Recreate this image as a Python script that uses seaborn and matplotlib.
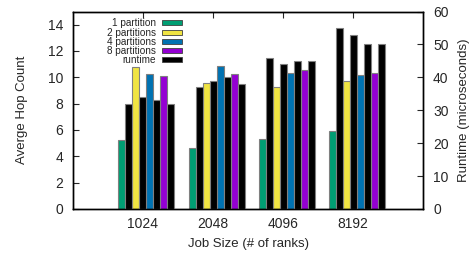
import pandas as pd
import seaborn as sns
import matplotlib.pyplot as plt
from matplotlib.patches import Patch

# values
sizes = ['1024', '2048', '4096', '8192']
hop_1 = [5.2, 4.6, 5.3, 5.9]
hop_2 = [10.75, 9.6, 9.3, 9.7]
hop_4 = [10.25, 10.85, 10.3, 10.2]
hop_8 = [10.1, 10.25, 10.55, 10.3]
run_1 = [32, 37, 46, 55]
run_2 = [34, 39, 44, 53]
run_4 = [33, 40, 45, 50]
run_8 = [32, 38, 45, 50]

levels = ['1 partition', 'rt1', '2 partitions', 'rt2',
          '4 partitions', 'rt4', '8 partitions', 'rt8']
colors = {'1 partition': '#009e73', '2 partitions': '#f0e442',
          '4 partitions': '#0072b2', '8 partitions': '#9400d3',
          'rt1': 'black', 'rt2': 'black', 'rt4': 'black', 'rt8': 'black'}

hop_df = pd.concat([
    pd.DataFrame({'size': sizes, 'val': v, 'series': name})
    for name, v in [('1 partition', hop_1), ('2 partitions', hop_2),
                    ('4 partitions', hop_4), ('8 partitions', hop_8)]])
run_df = pd.concat([
    pd.DataFrame({'size': sizes, 'val': v, 'series': name})
    for name, v in [('rt1', run_1), ('rt2', run_2), ('rt4', run_4), ('rt8', run_8)]])

sns.set_style('ticks')
plt.rcParams['font.family'] = ['Liberation Sans', 'DejaVu Sans']

fig, ax = plt.subplots(figsize=(4.73, 2.56), dpi=100)
fig.subplots_adjust(left=0.154, right=0.895, top=0.955, bottom=0.184)
ax2 = ax.twinx()

sns.barplot(hop_df, x='size', y='val', hue='series', order=sizes, hue_order=levels,
            palette=colors, saturation=1, ax=ax, legend=False, edgecolor='#808080',
            linewidth=0.8, width=0.8, gap=0)
sns.barplot(run_df, x='size', y='val', hue='series', order=sizes, hue_order=levels,
            palette=colors, saturation=1, ax=ax2, legend=False, edgecolor='#808080',
            linewidth=0.8, width=0.8, gap=0)

ax.set_ylim(0, 15)
ax2.set_ylim(0, 60)
ax.set_yticks(range(0, 15, 2))
ax2.set_yticks(range(0, 61, 10))
ticks = [i - 0.05 for i in range(len(sizes))]
ax.set_xticks(ticks)
ax.set_xticklabels(sizes)
ax.set_xlim(-1.05, 3.95)

ax.set_xlabel('Job Size (# of ranks)', fontsize=9.5, labelpad=5)
ax.set_ylabel('Averge Hop Count', fontsize=9.5, labelpad=14)
ax2.set_ylabel('Runtime (microseconds)', fontsize=9.5, labelpad=7)

ax.tick_params(axis='x', direction='in', labelsize=10, length=4, width=0.8,
               top=True, bottom=False, pad=6)
ax.tick_params(axis='y', direction='in', labelsize=10, length=4, width=0.8,
               right=False, pad=7)
ax2.tick_params(axis='y', direction='in', labelsize=10, length=4, width=0.8, pad=7)
for a in (ax, ax2):
    for s in a.spines.values():
        s.set_linewidth(1.0)
        s.set_color('black')

handles = [Patch(facecolor=colors[k], edgecolor='#404040', linewidth=0.6)
           for k in ['1 partition', '2 partitions', '4 partitions', '8 partitions', 'rt1']]
names = ['1 partition', '2 partitions', '4 partitions', '8 partitions', 'runtime']
ax2.legend(handles, names, loc='upper right', bbox_to_anchor=(0.312, 0.965),
           frameon=False, markerfirst=False, fontsize=7.2, handlelength=2.0,
           handleheight=0.4, labelspacing=-0.08, handletextpad=0.6, borderpad=0,
           borderaxespad=0)

fig.savefig('out.png', dpi=100)
